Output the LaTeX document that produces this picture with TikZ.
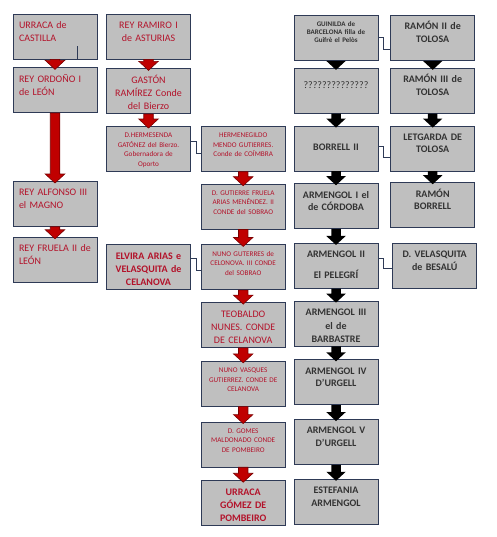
\documentclass[tikz,border=0pt]{standalone}
\usepackage{fontspec}
\setmainfont{Carlito}
\usetikzlibrary{calc,positioning}
\definecolor{boxgray}{HTML}{BFBFBF}
\definecolor{boxedge}{HTML}{2E3A56}
\definecolor{namered}{HTML}{B3122A}
\definecolor{namegray}{HTML}{333333}
\definecolor{arrred}{HTML}{C00000}
\definecolor{arrdark}{HTML}{7A0000}

% block arrow from the bottom of #2 to the top of #3
\newcommand{\famarrow}[3][]{%
  \path[#1] let \p1=(#2.south), \p2=(#3.north) in
    (\x1-4.75pt,\y1) -- (\x1-4.75pt,\y2+7pt) -- (\x1-9.75pt,\y2+7pt) -- (\x1,\y2-2pt)
    -- (\x1+9.75pt,\y2+7pt) -- (\x1+4.75pt,\y2+7pt) -- (\x1+4.75pt,\y1) -- cycle;}

\begin{document}
\begin{tikzpicture}[
  x=1pt,y=1pt,
  node distance=12pt and 10pt,
  person/.style={draw=boxedge,fill=boxgray,line width=0.7pt,minimum width=84pt,minimum height=45pt,inner sep=2pt,align=center,text width=80pt,font=\fontsize{10}{13}\selectfont,text height=12.5pt,text depth=28.5pt},
  redside/.style={person,text=namered},
  leftside/.style={redside,align=left,text width=72pt},
  redbold/.style={redside,font=\bfseries\fontsize{10}{13}\selectfont},
  redsmall/.style={redside,font=\fontsize{7.2}{9.6}\selectfont,text height=9.3pt,text depth=31.7pt},
  blackside/.style={person,text=namegray,font=\bfseries\fontsize{10}{12.5}\selectfont},
  redarr/.style={fill=arrred,draw=arrdark,line width=0.6pt,line join=miter},
  blackarr/.style={fill=black},
  link/.style={draw=boxedge,line width=0.6pt}
]
\useasboundingbox (0,0) rectangle (496,-537);

% Leon and Asturias
\node[leftside] (urraca) at (55,-36.5) {URRACA de\\CASTILLA};
\node[leftside,below=8pt of urraca] (ordono) {REY ORDOÑO I\\de LEÓN};
\node[leftside,below=68pt of ordono] (alfonso) {REY ALFONSO III\\el MAGNO};
\node[leftside,below=10pt of alfonso] (fruela) {REY FRUELA II de\\LEÓN};

\node[redside] (ramiro) at (148.5,-36.5) {REY RAMIRO I\\de ASTURIAS};
\node[redside,below=9pt of ramiro] (gaston) {GASTÓN\\RAMÍREZ Conde\\del Bierzo};
\node[redsmall,below=12pt of gaston] (hermesenda) {D.HERMESENDA\\GATÓNEZ del Bierzo.\\Gobernadora de\\Oporto};

% Celanova and Pombeiro
\node[redsmall,right=10pt of hermesenda] (hermenegildo) {HERMENEGILDO\\MENDO GUTIERRES.\\Conde de COÍMBRA};
\node[redsmall,below=12pt of hermenegildo] (gutierre) {D. GUTIERRE FRUELA\\ARIAS MENÉNDEZ. II\\CONDE del SOBRAO};
\node[redsmall,below=15pt of gutierre] (nuno) {NUNO GUTERRES de\\CELONOVA. III CONDE\\del SOBRAO};
\node[redbold,left=10pt of nuno] (elvira) {ELVIRA ARIAS e\\VELASQUITA de\\CELANOVA};
\node[redside,below=12pt of nuno] (teobaldo) {TEOBALDO\\NUNES. CONDE\\DE CELANOVA};
\node[redsmall,below=13pt of teobaldo] (vasques) {NUNO VASQUES\\GUTIERREZ. CONDE DE\\CELANOVA};
\node[redsmall,below=15pt of vasques] (gomes) {D. GOMES\\MALDONADO CONDE\\DE POMBEIRO};
\node[redbold,below=13pt of gomes] (urracag) {URRACA\\GÓMEZ DE\\POMBEIRO};

% Urgell
\node[blackside,font=\bfseries\fontsize{7}{7.8}\selectfont,text height=9.3pt,text depth=31.7pt] (guinilda) at (336,-38) {GUINILDA de\\BARCELONA filla de\\Guifrè el Pelòs};
\node[blackside,font=\fontsize{10}{12}\selectfont,text height=18.3pt,text depth=22.7pt,below=7pt of guinilda] (unknown) {??????????????};
\node[blackside,text height=22.3pt,text depth=18.7pt,below=12pt of unknown] (borrell) {BORRELL II};
\node[blackside,below=12pt of borrell] (armengolI) {ARMENGOL I el\\de CÓRDOBA};
\node[blackside,below=14pt of armengolI] (armengolII) {ARMENGOL II\\[8pt]El PELEGRÍ};
\node[blackside,font=\bfseries\fontsize{10}{13.5}\selectfont,below=12pt of armengolII] (armengolIII) {ARMENGOL III\\el de\\BARBASTRE};
\node[blackside,below=13pt of armengolIII] (armengolIV) {ARMENGOL IV\\D’URGELL};
\node[blackside,below=14pt of armengolIV] (armengolV) {ARMENGOL V\\D’URGELL};
\node[blackside,below=14pt of armengolV] (estefania) {ESTEFANIA\\ARMENGOL};

% Tolosa
\node[blackside,right=12pt of guinilda] (ramonII) {RAMÓN II de\\TOLOSA};
\node[blackside,below=7pt of ramonII] (ramonIII) {RAMÓN III de\\TOLOSA};
\node[blackside,below=12pt of ramonIII] (letgarda) {LETGARDA DE\\TOLOSA};
\node[blackside,below=11pt of letgarda] (ramonB) {RAMÓN\\BORRELL};
\node[blackside,right=14pt of armengolII] (velasquita) {D. VELASQUITA\\de BESALÚ};

% Arrows
\famarrow[redarr]{urraca}{ordono}
\famarrow[redarr]{ordono}{alfonso}
\famarrow[redarr]{alfonso}{fruela}
\famarrow[redarr]{ramiro}{gaston}
\famarrow[redarr]{gaston}{hermesenda}
\famarrow[redarr]{hermenegildo}{gutierre}
\famarrow[redarr]{gutierre}{nuno}
\famarrow[redarr]{nuno}{teobaldo}
\famarrow[redarr]{teobaldo}{vasques}
\famarrow[redarr]{vasques}{gomes}
\famarrow[redarr]{gomes}{urracag}

\famarrow[blackarr]{guinilda}{unknown}
\famarrow[blackarr]{unknown}{borrell}
\famarrow[blackarr]{borrell}{armengolI}
\famarrow[blackarr]{armengolI}{armengolII}
\famarrow[blackarr]{armengolII}{armengolIII}
\famarrow[blackarr]{armengolIII}{armengolIV}
\famarrow[blackarr]{armengolIV}{armengolV}
\famarrow[blackarr]{armengolV}{estefania}
\famarrow[blackarr]{ramonII}{ramonIII}
\famarrow[blackarr]{ramonIII}{letgarda}
\famarrow[blackarr]{letgarda}{ramonB}

% Marriages
\draw[link] ([yshift=7.5pt]hermesenda.east) -- ++(5,0) |- ([yshift=-4.5pt]hermenegildo.west);
\draw[link] ([yshift=9pt]elvira.east) -- ++(5,0) |- ([yshift=-2.5pt]nuno.west);
\draw[link] ([yshift=1pt]guinilda.east) -- ++(5,0) |- ([yshift=-11pt]ramonII.west);
\draw[link] ([yshift=2pt]borrell.east) -- ++(5,0) |- ([yshift=-9pt]letgarda.west);
\draw[link] ([yshift=7.5pt]armengolII.east) -- ++(5,0) |- ([yshift=-2.5pt]velasquita.west);
\draw[link] ([xshift=22pt]urraca.south) -- ++(0,13);

\end{tikzpicture}
\end{document}
